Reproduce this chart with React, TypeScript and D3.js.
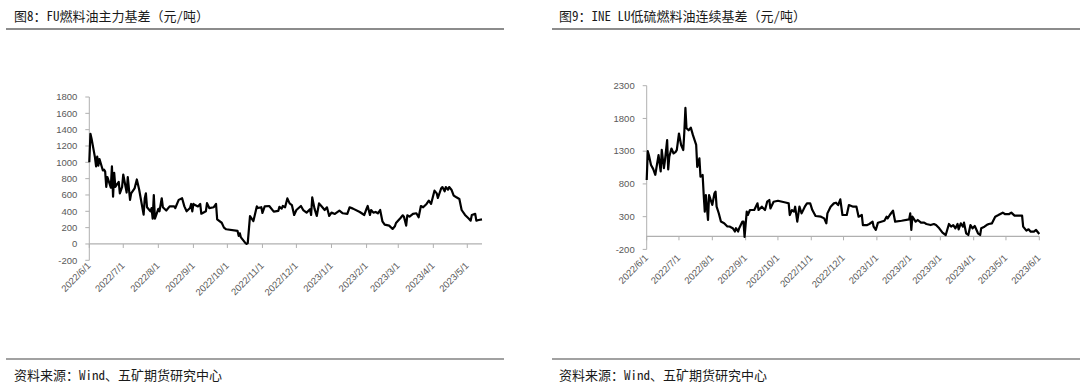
import React, { useEffect, useRef } from "react";
import * as d3 from "d3";

// FU 主力基差 (元/吨)
const fuDates = [
  "2022-06-01", "2022-06-02", "2022-06-03", "2022-06-06", "2022-06-07", "2022-06-08", "2022-06-09", "2022-06-10",
  "2022-06-13", "2022-06-14", "2022-06-15", "2022-06-16", "2022-06-17", "2022-06-20", "2022-06-21", "2022-06-22",
  "2022-06-23", "2022-06-24", "2022-06-27", "2022-06-28", "2022-06-30", "2022-07-01", "2022-07-04", "2022-07-05",
  "2022-07-07", "2022-07-08", "2022-07-11", "2022-07-13", "2022-07-15", "2022-07-19", "2022-07-20", "2022-07-21",
  "2022-07-22", "2022-07-25", "2022-07-26", "2022-07-27", "2022-07-28", "2022-07-29", "2022-08-01", "2022-08-02",
  "2022-08-04", "2022-08-05", "2022-08-08", "2022-08-11", "2022-08-15", "2022-08-16", "2022-08-19", "2022-08-22",
  "2022-08-24", "2022-08-26", "2022-08-29", "2022-08-30", "2022-08-31", "2022-09-01", "2022-09-02", "2022-09-05",
  "2022-09-07", "2022-09-08", "2022-09-12", "2022-09-13", "2022-09-15", "2022-09-19", "2022-09-21", "2022-09-22",
  "2022-09-26", "2022-09-28", "2022-09-30", "2022-10-10", "2022-10-11", "2022-10-12", "2022-10-13", "2022-10-17",
  "2022-10-18", "2022-10-19", "2022-10-21", "2022-10-24", "2022-10-25", "2022-10-27", "2022-10-28", "2022-10-31",
  "2022-11-01", "2022-11-03", "2022-11-07", "2022-11-11", "2022-11-15", "2022-11-16", "2022-11-18", "2022-11-19",
  "2022-11-21", "2022-11-23", "2022-11-25", "2022-11-27", "2022-11-29", "2022-12-01", "2022-12-05", "2022-12-07",
  "2022-12-10", "2022-12-13", "2022-12-14", "2022-12-15", "2022-12-17", "2022-12-19", "2022-12-21", "2022-12-23",
  "2022-12-26", "2022-12-28", "2022-12-30", "2023-01-01", "2023-01-04", "2023-01-08", "2023-01-11", "2023-01-15",
  "2023-01-17", "2023-01-20", "2023-01-26", "2023-01-30", "2023-02-01", "2023-02-02", "2023-02-04", "2023-02-05",
  "2023-02-07", "2023-02-09", "2023-02-11", "2023-02-13", "2023-02-15", "2023-02-17", "2023-02-21", "2023-02-24",
  "2023-02-26", "2023-02-27", "2023-03-03", "2023-03-05", "2023-03-06", "2023-03-08", "2023-03-09", "2023-03-11",
  "2023-03-14", "2023-03-17", "2023-03-19", "2023-03-21", "2023-03-23", "2023-03-26", "2023-03-28", "2023-03-30",
  "2023-04-02", "2023-04-04", "2023-04-05", "2023-04-08", "2023-04-09", "2023-04-11", "2023-04-12", "2023-04-14",
  "2023-04-15", "2023-04-17", "2023-04-19", "2023-04-21", "2023-04-24", "2023-04-26", "2023-04-29", "2023-05-02",
  "2023-05-04", "2023-05-05", "2023-05-08", "2023-05-09", "2023-05-11", "2023-05-14",
];
const fuBasis = [
  1000, 1350, 1290, 1060, 950, 1070, 960, 1040,
  900, 910, 890, 700, 820, 690, 950, 580,
  870, 700, 760, 620, 700, 850, 630, 820,
  540, 620, 680, 790, 670, 360, 560, 620,
  450, 400, 440, 310, 600, 310, 430, 400,
  560, 450, 410, 460, 460, 440, 540, 560,
  460, 400, 440, 490, 400, 490, 480, 460,
  490, 370, 400, 500, 440, 450, 490, 300,
  260, 200, 180, 160, 100, 130, 80, 10,
  0, 10, 340, 280, 340, 460, 440, 450,
  380, 460, 465, 396, 405, 454, 433, 465,
  449, 558, 497, 477, 355, 416, 465, 416,
  384, 425, 355, 571, 433, 343, 497, 465,
  416, 449, 343, 384, 368, 408, 376, 368,
  449, 433, 392, 355, 433, 465, 355, 416,
  384, 392, 376, 416, 278, 237, 225, 184,
  216, 257, 318, 351, 335, 225, 351, 335,
  368, 376, 327, 465, 449, 490, 531, 490,
  653, 620, 563, 683, 697, 645, 697, 665,
  697, 665, 592, 575, 551, 416, 355, 314,
  286, 355, 368, 286, 294, 302,
];

// LU 连续基差 (元/吨)
const luDates = [
  "2022-06-01", "2022-06-02", "2022-06-03", "2022-06-05", "2022-06-07", "2022-06-09", "2022-06-11", "2022-06-12",
  "2022-06-14", "2022-06-15", "2022-06-17", "2022-06-18", "2022-06-20", "2022-06-21", "2022-06-22", "2022-06-24",
  "2022-06-26", "2022-06-28", "2022-06-29", "2022-07-01", "2022-07-03", "2022-07-05", "2022-07-06", "2022-07-07",
  "2022-07-08", "2022-07-10", "2022-07-12", "2022-07-14", "2022-07-17", "2022-07-18", "2022-07-20", "2022-07-21",
  "2022-07-23", "2022-07-24", "2022-07-25", "2022-07-26", "2022-07-28", "2022-07-29", "2022-08-01", "2022-08-03",
  "2022-08-04", "2022-08-05", "2022-08-07", "2022-08-09", "2022-08-12", "2022-08-15", "2022-08-17", "2022-08-20",
  "2022-08-22", "2022-08-23", "2022-08-25", "2022-08-26", "2022-08-29", "2022-08-30", "2022-08-31", "2022-09-02",
  "2022-09-03", "2022-09-05", "2022-09-09", "2022-09-12", "2022-09-13", "2022-09-16", "2022-09-19", "2022-09-21",
  "2022-09-23", "2022-09-24", "2022-09-27", "2022-10-01", "2022-10-05", "2022-10-09", "2022-10-11", "2022-10-12",
  "2022-10-14", "2022-10-16", "2022-10-17", "2022-10-19", "2022-10-21", "2022-10-23", "2022-10-26", "2022-10-28",
  "2022-10-31", "2022-11-02", "2022-11-05", "2022-11-10", "2022-11-13", "2022-11-15", "2022-11-16", "2022-11-19",
  "2022-11-22", "2022-11-24", "2022-11-26", "2022-11-28", "2022-11-30", "2022-12-04", "2022-12-06", "2022-12-10",
  "2022-12-13", "2022-12-15", "2022-12-18", "2022-12-19", "2022-12-23", "2022-12-25", "2022-12-28", "2022-12-29",
  "2022-12-31", "2023-01-02", "2023-01-05", "2023-01-08", "2023-01-10", "2023-01-11", "2023-01-13", "2023-01-16",
  "2023-01-18", "2023-01-24", "2023-01-31", "2023-02-01", "2023-02-02", "2023-02-03", "2023-02-06", "2023-02-08",
  "2023-02-11", "2023-02-14", "2023-02-16", "2023-02-20", "2023-02-23", "2023-02-25", "2023-02-28", "2023-03-03",
  "2023-03-06", "2023-03-09", "2023-03-11", "2023-03-13", "2023-03-15", "2023-03-17", "2023-03-18", "2023-03-20",
  "2023-03-22", "2023-03-23", "2023-03-25", "2023-03-27", "2023-03-29", "2023-03-31", "2023-04-02", "2023-04-05",
  "2023-04-07", "2023-04-08", "2023-04-11", "2023-04-13", "2023-04-15", "2023-04-18", "2023-04-21", "2023-04-24",
  "2023-04-28", "2023-04-30", "2023-05-04", "2023-05-06", "2023-05-09", "2023-05-12", "2023-05-16", "2023-05-17",
  "2023-05-20", "2023-05-22", "2023-05-24", "2023-05-27", "2023-05-29", "2023-06-01",
];
const luBasis = [
  860, 1300, 1240, 1090, 1030, 940, 1140, 1240,
  990, 1320, 1040, 1165, 1470, 1020, 1215, 1340,
  1265, 1290, 1320, 1570, 1395, 1318, 1600, 1960,
  1650, 1620, 1660, 1545, 1395, 1060, 1190, 910,
  936, 630, 377, 630, 250, 630, 480, 657,
  682, 453, 352, 225, 200, 150, 150, 124,
  73, 124, 73, 124, 225, 225, -10, 377,
  326, 402, 402, 504, 402, 453, 402, 529,
  554, 426, 528, 543, 528, 513, 503, 325,
  401, 376, 452, 223, 452, 350, 452, 503,
  503, 401, 310, 300, 274, 198, 350, 452,
  503, 513, 477, 564, 325, 325, 477, 452,
  452, 300, 325, 172, 172, 188, 223, 147,
  97, 208, 223, 238, 300, 274, 325, 391,
  223, 238, 259, 350, 97, 300, 223, 249,
  208, 208, 188, 172, 188, 172, 122, 56,
  20, 188, 147, 172, 122, 188, 107, 198,
  147, 208, 46, 20, 172, 122, 158, 46,
  20, 122, 147, 172, 188, 198, 300, 325,
  361, 340, 340, 361, 315, 315, 315, 147,
  86, 107, 71, 71, 97, 36,
];

const fuYTicks = [-200, 0, 200, 400, 600, 800, 1000, 1200, 1400, 1600, 1800];
const luYTicks = [-200, 300, 800, 1300, 1800, 2300];
const fuMonths = [
  "2022-06-01", "2022-07-01", "2022-08-01", "2022-09-01", "2022-10-01", "2022-11-01",
  "2022-12-01", "2023-01-01", "2023-02-01", "2023-03-01", "2023-04-01", "2023-05-01",
];
const luMonths = [...fuMonths, "2023-06-01"];

const fuTitle = "图8：FU燃料油主力基差（元/吨）";
const luTitle = "图9：INE LU低硫燃料油连续基差（元/吨）";
const sourceNote = "资料来源：Wind、五矿期货研究中心";

const parseDay = d3.timeParse("%Y-%m-%d");
const fmtTick = d3.timeFormat("%Y/%-m/%-d");
// report captions use a half-width latin / full-width CJK face
const cjkFont = "'Noto Sans Mono CJK SC', 'Noto Sans CJK SC', 'Noto Sans', sans-serif";
const tickFont = "'Liberation Sans', Arial, sans-serif";

function drawPanel(svg, p) {
  const g = svg.append("g");

  // title + rules
  g.append("text")
    .attr("x", p.titleX).attr("y", 21)
    .attr("font-family", cjkFont).attr("font-size", 13)
    .attr("fill", "#1a1a1a")
    .text(p.title);
  g.append("line")
    .attr("x1", p.ruleX0).attr("x2", p.ruleX1)
    .attr("y1", 29).attr("y2", 29)
    .attr("stroke", "#666").attr("stroke-width", 1.5);
  g.append("line")
    .attr("x1", p.ruleX0).attr("x2", p.ruleX1)
    .attr("y1", 359).attr("y2", 359)
    .attr("stroke", "#444").attr("stroke-width", 1.2);
  g.append("text")
    .attr("x", p.titleX).attr("y", 380)
    .attr("font-family", cjkFont).attr("font-size", 13)
    .attr("fill", "#1a1a1a")
    .text(sourceNote);

  const dates = p.dates.map(parseDay);
  const x = d3.scaleTime()
    .domain([parseDay(p.xStart), parseDay(p.xEnd)])
    .range([p.left, p.right]);
  const y = d3.scaleLinear()
    .domain([p.yTicks[0], p.yTicks[p.yTicks.length - 1]])
    .range([p.bottom, p.top]);

  const axisColor = "#b0b0b0";

  // y axis
  g.append("line")
    .attr("x1", p.left).attr("x2", p.left)
    .attr("y1", y(p.yTicks[0])).attr("y2", y(p.yTicks[p.yTicks.length - 1]))
    .attr("stroke", axisColor);
  p.yTicks.forEach(t => {
    g.append("line")
      .attr("x1", p.left - 4).attr("x2", p.left)
      .attr("y1", y(t)).attr("y2", y(t))
      .attr("stroke", axisColor);
    g.append("text")
      .attr("x", p.left - 12).attr("y", y(t) + 3.2)
      .attr("text-anchor", "end")
      .attr("font-family", tickFont).attr("font-size", 9.5)
      .attr("fill", "#595959")
      .text(t);
  });

  // x axis sits at zero
  const y0 = y(0);
  g.append("line")
    .attr("x1", p.left).attr("x2", p.right)
    .attr("y1", y0).attr("y2", y0)
    .attr("stroke", axisColor).attr("stroke-width", 1.2);
  p.months.map(parseDay).forEach(m => {
    const tx = x(m);
    g.append("line")
      .attr("x1", tx).attr("x2", tx)
      .attr("y1", y0).attr("y2", y0 + 4)
      .attr("stroke", axisColor);
    g.append("text")
      .attr("transform", `translate(${tx + 2},${p.bottom + p.labelGap}) rotate(-45)`)
      .attr("text-anchor", "end")
      .attr("font-family", tickFont).attr("font-size", 9.5)
      .attr("fill", "#595959")
      .text(fmtTick(m));
  });

  const line = d3.line()
    .x((d, i) => x(dates[i]))
    .y(d => y(d));
  g.append("path")
    .datum(p.values)
    .attr("fill", "none")
    .attr("stroke", "#000")
    .attr("stroke-width", 2.2)
    .attr("stroke-linejoin", "round")
    .attr("d", line);
}

export default function App() {
  const ref = useRef(null);

  useEffect(() => {
    const svg = d3.select(ref.current);
    svg.selectAll("*").remove();

    drawPanel(svg, {
      title: fuTitle, titleX: 14, ruleX0: 6, ruleX1: 504,
      dates: fuDates, values: fuBasis, yTicks: fuYTicks, months: fuMonths,
      xStart: "2022-06-01", xEnd: "2023-05-14",
      left: 89.3, right: 482, top: 97, bottom: 260.3, labelGap: 6,
    });
    drawPanel(svg, {
      title: luTitle, titleX: 559, ruleX0: 552, ruleX1: 1080,
      dates: luDates, values: luBasis, yTicks: luYTicks, months: luMonths,
      xStart: "2022-06-01", xEnd: "2023-06-01",
      left: 646.7, right: 1039.3, top: 85.7, bottom: 249.4, labelGap: 9,
    });
  }, []);

  return (
    <svg
      ref={ref}
      width={1080}
      height={390}
      style={{ position: "absolute", left: 0, top: 0, background: "#fff" }}
    />
  );
}
